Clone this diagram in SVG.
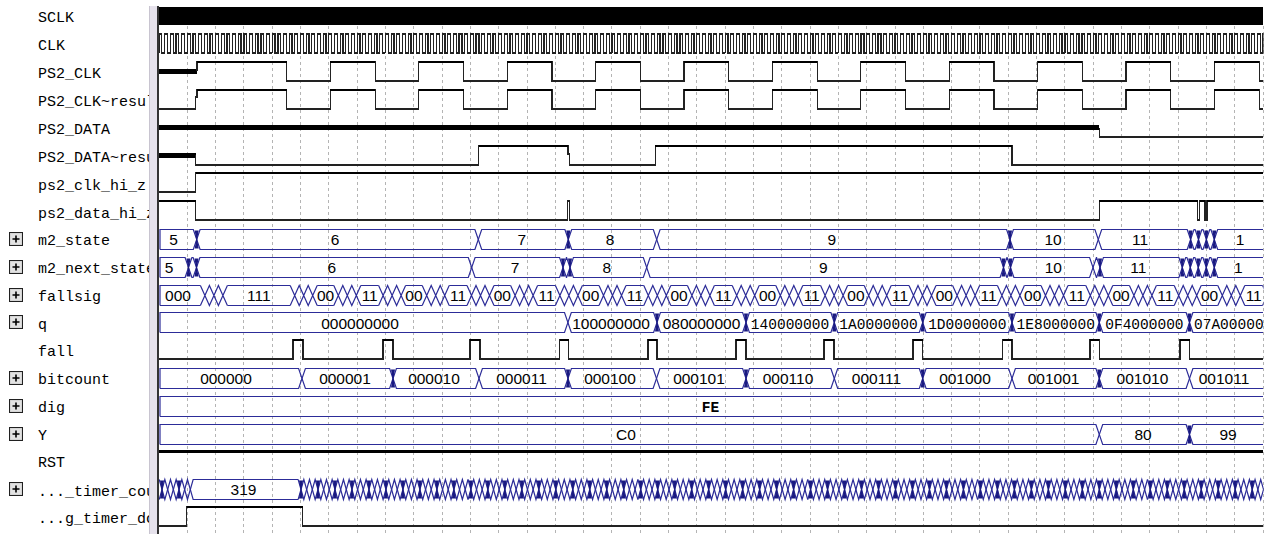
<svg xmlns="http://www.w3.org/2000/svg" width="1277" height="534" viewBox="0 0 1277 534">
<style>
.lbl{font-family:"Liberation Mono","DejaVu Sans Mono",monospace;font-size:15px;fill:#000}
.val{font-family:"Liberation Sans",Arial,sans-serif;font-size:15.5px;fill:#000;text-anchor:middle}
.valm{font-family:"Liberation Mono","DejaVu Sans Mono",monospace;font-size:14.5px;fill:#000;text-anchor:middle}
.grid{fill:none;stroke:#b4b4b4;stroke-width:1;stroke-dasharray:3 3}
.w{fill:none;stroke:#222;stroke-width:1.2}
.hi{fill:none;stroke:#000;stroke-width:2}
.z{fill:none;stroke:#000;stroke-width:5}
.bus{fill:none;stroke:#2c2c98;stroke-width:1.2}
.hg{fill:#1a1a80}
.crisp{shape-rendering:crispEdges}
</style>
<defs>
<clipPath id="lc"><rect x="0" y="0" width="149" height="534"/></clipPath>
<clipPath id="wc"><rect x="159" y="0" width="1104.5" height="534"/></clipPath>
<path id="hg" fill="#1a1a80" d="M-2,1h4l-1.5,9l1.5,9h-4l1.5,-9z"/>
<g id="pb"><rect x="0.5" y="0.5" width="13" height="13" fill="#c8c8c8" stroke="#202020"/><rect x="1.5" y="1.5" width="11" height="11" fill="#e2e2e2"/><path d="M3.5,7H10.5M7,3.5V10.5" stroke="#000" stroke-width="1.6"/></g>
<path id="ck" fill="none" stroke="#222" stroke-width="1.2" d="M0,19v-19h2.831v19h2.831v-19h2.831v19h2.831v-19h2.831v19h2.831v-19h2.831v19h2.831v-19h2.831v19h2.831v-19h2.831v19h2.831v-19h2.831v19h2.831v-19h2.831v19h2.831v-19h2.831v19h2.831v-19h2.831v19h2.831v-19h2.831v19h2.831v-19h2.831v19h2.831v-19h2.831v19h2.831v-19h2.831v19h2.831v-19h2.831v19h2.831v-19h2.831v19h2.831v-19h2.831v19h2.831v-19h2.831v19h2.831v-19h2.831v19h2.831v-19h2.831v19h2.831"/>
<path id="x3" fill="none" stroke="#2c2c98" stroke-width="1.2" d="M0,0l9,20l9,-20l9,20M0,20l9,-20l9,20l9,-20"/>
<g id="tz">
<path fill="none" stroke="#2c2c98" stroke-width="1.2" d="M0,0l5.662,20l5.662,-20l5.662,20l5.662,-20l5.662,20l5.662,-20l5.662,20l5.662,-20l5.662,20l5.662,-20l5.662,20l5.662,-20l5.662,20l5.662,-20l5.662,20l5.662,-20l5.662,20l5.662,-20l5.662,20l5.662,-20l5.662,20l5.662,-20l5.662,20l5.662,-20l5.662,20l5.662,-20l5.662,20l5.662,-20l5.662,20l5.662,-20"/>
<path fill="none" stroke="#2c2c98" stroke-width="1.2" d="M0,20l5.662,-20l5.662,20l5.662,-20l5.662,20l5.662,-20l5.662,20l5.662,-20l5.662,20l5.662,-20l5.662,20l5.662,-20l5.662,20l5.662,-20l5.662,20l5.662,-20l5.662,20l5.662,-20l5.662,20l5.662,-20l5.662,20l5.662,-20l5.662,20l5.662,-20l5.662,20l5.662,-20l5.662,20l5.662,-20l5.662,20l5.662,-20l5.662,20"/>
<path fill="#1a1a80" d="M0.831,1h4l-1.5,9l1.5,9h-4l1.5,-9zm16.986,0h4l-1.5,9l1.5,9h-4l1.5,-9zm16.986,0h4l-1.5,9l1.5,9h-4l1.5,-9zm16.986,0h4l-1.5,9l1.5,9h-4l1.5,-9zm16.986,0h4l-1.5,9l1.5,9h-4l1.5,-9zm16.986,0h4l-1.5,9l1.5,9h-4l1.5,-9zm16.986,0h4l-1.5,9l1.5,9h-4l1.5,-9zm16.986,0h4l-1.5,9l1.5,9h-4l1.5,-9zm16.986,0h4l-1.5,9l1.5,9h-4l1.5,-9zm16.986,0h4l-1.5,9l1.5,9h-4l1.5,-9z"/>
</g>
</defs>

<rect x="0" y="0" width="1277" height="534" fill="#fff"/>

<g id="labels" clip-path="url(#lc)">
<text class="lbl" x="38" y="22">SCLK</text>
<text class="lbl" x="38" y="50">CLK</text>
<text class="lbl" x="38" y="78">PS2_CLK</text>
<text class="lbl" x="38" y="106">PS2_CLK~resul</text>
<text class="lbl" x="38" y="134">PS2_DATA</text>
<text class="lbl" x="38" y="162">PS2_DATA~resu</text>
<text class="lbl" x="38" y="190">ps2_clk_hi_z</text>
<text class="lbl" x="38" y="218">ps2_data_hi_z</text>
<text class="lbl" x="38" y="245">m2_state</text>
<text class="lbl" x="38" y="273">m2_next_state</text>
<text class="lbl" x="38" y="301">fallsig</text>
<text class="lbl" x="38" y="329">q</text>
<text class="lbl" x="38" y="356">fall</text>
<text class="lbl" x="38" y="384">bitcount</text>
<text class="lbl" x="38" y="412">dig</text>
<text class="lbl" x="38" y="440">Y</text>
<text class="lbl" x="38" y="467">RST</text>
<text class="lbl" x="38" y="496">..._timer_cou</text>
<text class="lbl" x="38" y="523">...g_timer_do</text>
</g>

<g id="expanders">
<use href="#pb" x="9" y="232"/>
<use href="#pb" x="9" y="260"/>
<use href="#pb" x="9" y="288"/>
<use href="#pb" x="9" y="315"/>
<use href="#pb" x="9" y="371"/>
<use href="#pb" x="9" y="399"/>
<use href="#pb" x="9" y="427"/>
<use href="#pb" x="9" y="482"/>
</g>

<g id="divider">
<rect x="149" y="6" width="8" height="528" fill="#e6e2ec"/>
<path d="M149.5,6V534" stroke="#c8c4d0"/>
<path d="M158,6V534" stroke="#000" stroke-width="1.6"/>
</g>

<g id="grid" class="crisp">
<path class="grid" d="M187.5,26V534M215.5,26V534M243.5,26V534M272.5,26V534M300.5,26V534M328.5,26V534M357.5,26V534M385.5,26V534M413.5,26V534M442.5,26V534M470.5,26V534M498.5,26V534M527.5,26V534M555.5,26V534M583.5,26V534M611.5,26V534M640.5,26V534M668.5,26V534M696.5,26V534M725.5,26V534M753.5,26V534M781.5,26V534M810.5,26V534M838.5,26V534M866.5,26V534M895.5,26V534M923.5,26V534M951.5,26V534M979.5,26V534M1008.5,26V534M1036.5,26V534M1064.5,26V534M1093.5,26V534M1121.5,26V534M1149.5,26V534M1178.5,26V534M1206.5,26V534M1234.5,26V534M1263.5,26V534"/>
</g>

<g id="waves" clip-path="url(#wc)">
<g id="bits" class="crisp">
<g id="sig-SCLK"><rect x="159" y="7" width="1104" height="18" fill="#000"/></g>
<g id="sig-CLK">
<use href="#ck" x="159" y="34"/><use href="#ck" x="272.24" y="34"/><use href="#ck" x="385.48" y="34"/><use href="#ck" x="498.72" y="34"/><use href="#ck" x="611.96" y="34"/><use href="#ck" x="725.2" y="34"/><use href="#ck" x="838.44" y="34"/><use href="#ck" x="951.68" y="34"/><use href="#ck" x="1064.92" y="34"/><use href="#ck" x="1178.16" y="34"/>
</g>
<g id="sig-PS2_CLK">
<path class="z" d="M159,71H197"/>
<path class="w" d="M197,71V62H286.8V81H330.4V62H375.2V81H418.8V62H463.6V81H507.2V62H552V81H595.6V62H640.4V81H684V62H728.8V81H772.4V62H817.2V81H860.8V62H905.6V81H949.2V62H994V81H1037.6V62H1082.4V81H1126V62H1170.8V81H1214.4V62H1259.2V81H1263"/>
<path class="hi" d="M197,62H286.8M330.4,62H375.2M418.8,62H463.6M507.2,62H552M595.6,62H640.4M684,62H728.8M772.4,62H817.2M860.8,62H905.6M949.2,62H994M1037.6,62H1082.4M1126,62H1170.8M1214.4,62H1259.2"/>
</g>
<g id="sig-PS2_CLK_result">
<path class="w" d="M159,109H195.3V97H197V90H286.8V109H330.4V90H375.2V109H418.8V90H463.6V109H507.2V90H552V109H595.6V90H640.4V109H684V90H728.8V109H772.4V90H817.2V109H860.8V90H905.6V109H949.2V90H994V109H1037.6V90H1082.4V109H1126V90H1170.8V109H1214.4V90H1259.2V109H1263"/>
<path class="hi" d="M197,90H286.8M330.4,90H375.2M418.8,90H463.6M507.2,90H552M595.6,90H640.4M684,90H728.8M772.4,90H817.2M860.8,90H905.6M949.2,90H994M1037.6,90H1082.4M1126,90H1170.8M1214.4,90H1259.2"/>
</g>
<g id="sig-PS2_DATA">
<path class="z" d="M159,127.5H1099.3"/>
<path class="w" d="M1099.3,127.5V137H1263"/>
</g>
<g id="sig-PS2_DATA_result">
<path class="z" d="M159,155H195.7"/>
<path class="w" d="M195.7,155V165H478.6V146H567.9V154H569.5V165H655.4V146H1012V165H1263"/>
<path class="hi" d="M478.6,146H567.9M655.4,146H1012"/>
</g>
<g id="sig-ps2_clk_hi_z">
<path class="w" d="M159,192H195.7V173H1263"/>
<path class="hi" d="M195.7,173H1263"/>
</g>
<g id="sig-ps2_data_hi_z">
<path class="w" d="M159,201H195.7V220H567.5V201H569.5V220H1099.3V201H1197.5V220H1199.5V201H1205V220H1207V201H1263"/>
<path class="hi" d="M159,201H195.7M1099.3,201H1197.5M1199.5,201H1205M1207,201H1263"/>
</g>
<g id="sig-fall">
<path class="w" d="M159,359H293V340H303V359H383V340H393V359H470V340H480V359H559.6V340H568.6V359H648V340H657V359H736V340H746V359H824V340H834V359H913V340H922.7V359H1002.5V340H1012V359H1090V340H1099.3V359H1180V340H1189.5V359H1263"/>
<path class="hi" d="M293,340H303M383,340H393M470,340H480M559.6,340H568.6M648,340H657M736,340H746M824,340H834M913,340H922.7M1002.5,340H1012M1090,340H1099.3M1180,340H1189.5"/>
</g>
<g id="sig-RST"><path class="hi" style="stroke-width:3" d="M159,451.5H1263"/></g>
<g id="sig-g_timer_done">
<path class="w" d="M159,526H186.8V507H302.5V526H1263"/>
<path class="hi" d="M186.8,507H302.5"/>
</g>
</g>

<g id="buses" transform="translate(0,0.5)">
<g id="bus-m2_state">
<path class="bus" d="M160,249V229H193.3L200.1,249H474.9L481.7,229H564.9L571.7,249H653.3L660.1,229H1006.6L1013.4,249H1094.9L1101.7,229H1187.2L1194,249H1195.1L1201.9,229H1203L1209.8,249H1210.9L1217.7,229H1263"/>
<path class="bus" d="M160,249H193.3L200.1,229H474.9L481.7,249H564.9L571.7,229H653.3L660.1,249H1006.6L1013.4,229H1094.9L1101.7,249H1187.2L1194,229H1195.1L1201.9,249H1203L1209.8,229H1210.9L1217.7,249H1263"/>
<use href="#hg" x="196.7" y="229"/><use href="#hg" x="568.3" y="229"/><use href="#hg" x="1010" y="229"/><use href="#hg" x="1190.6" y="229"/><use href="#hg" x="1198.5" y="229"/><use href="#hg" x="1206.4" y="229"/><use href="#hg" x="1214.3" y="229"/>
</g>
<g id="bus-m2_next_state">
<path class="bus" d="M160,277V257H185.1L191.9,277H193.1L199.9,257H468.3L475.1,277H559.6L566.4,257H566.6L573.4,277H643.3L650.1,257H1000.1L1006.9,277H1007.1L1013.9,257H1089.6L1096.4,277H1096.6L1103.4,257H1178.9L1185.7,277H1186.9L1193.7,257H1194.9L1201.7,277H1202.9L1209.7,257H1210.9L1217.7,277H1263"/>
<path class="bus" d="M160,277H185.1L191.9,257H193.1L199.9,277H468.3L475.1,257H559.6L566.4,277H566.6L573.4,257H643.3L650.1,277H1000.1L1006.9,257H1007.1L1013.9,277H1089.6L1096.4,257H1096.6L1103.4,277H1178.9L1185.7,257H1186.9L1193.7,277H1194.9L1201.7,257H1202.9L1209.7,277H1210.9L1217.7,257H1263"/>
<use href="#hg" x="188.5" y="257"/><use href="#hg" x="196.5" y="257"/><use href="#hg" x="563" y="257"/><use href="#hg" x="570" y="257"/><use href="#hg" x="1003.5" y="257"/><use href="#hg" x="1010.5" y="257"/><use href="#hg" x="1100" y="257"/><use href="#hg" x="1182.3" y="257"/><use href="#hg" x="1190.3" y="257"/><use href="#hg" x="1198.3" y="257"/><use href="#hg" x="1206.3" y="257"/><use href="#hg" x="1214.3" y="257"/>
</g>
<g id="bus-fallsig">
<path class="bus" d="M160,305V285H200.4M227.4,285H290.2M317.2,285H333.8M360.8,285H378.6M405.6,285H422.2M449.2,285H467M494,285H510.6M537.6,285H555.4M582.4,285H599M626,285H643.8M670.8,285H687.4M714.4,285H732.2M759.2,285H775.8M802.8,285H820.6M847.6,285H864.2M891.2,285H909M936,285H952.6M979.6,285H997.4M1024.4,285H1041M1068,285H1085.8M1112.8,285H1129.4M1156.4,285H1174.2M1201.2,285H1217.8M1244.8,285H1262.6"/>
<path class="bus" d="M160,305H200.4M227.4,305H290.2M317.2,305H333.8M360.8,305H378.6M405.6,305H422.2M449.2,305H467M494,305H510.6M537.6,305H555.4M582.4,305H599M626,305H643.8M670.8,305H687.4M714.4,305H732.2M759.2,305H775.8M802.8,305H820.6M847.6,305H864.2M891.2,305H909M936,305H952.6M979.6,305H997.4M1024.4,305H1041M1068,305H1085.8M1112.8,305H1129.4M1156.4,305H1174.2M1201.2,305H1217.8M1244.8,305H1262.6"/>
<use href="#x3" x="200.4" y="285"/><use href="#x3" x="290.2" y="285"/><use href="#x3" x="333.8" y="285"/><use href="#x3" x="378.6" y="285"/><use href="#x3" x="422.2" y="285"/><use href="#x3" x="467" y="285"/><use href="#x3" x="510.6" y="285"/><use href="#x3" x="555.4" y="285"/><use href="#x3" x="599" y="285"/><use href="#x3" x="643.8" y="285"/><use href="#x3" x="687.4" y="285"/><use href="#x3" x="732.2" y="285"/><use href="#x3" x="775.8" y="285"/><use href="#x3" x="820.6" y="285"/><use href="#x3" x="864.2" y="285"/><use href="#x3" x="909" y="285"/><use href="#x3" x="952.6" y="285"/><use href="#x3" x="997.4" y="285"/><use href="#x3" x="1041" y="285"/><use href="#x3" x="1085.8" y="285"/><use href="#x3" x="1129.4" y="285"/><use href="#x3" x="1174.2" y="285"/><use href="#x3" x="1217.8" y="285"/><use href="#x3" x="1262.6" y="285"/>
</g>
<g id="bus-q">
<path class="bus" d="M160,332V312H564.5L571.3,332H653.6L660.4,312H742.6L749.4,332H830.9L837.7,312H919.3L926.1,332H1008.6L1015.4,312H1095.9L1102.7,332H1186.1L1192.9,312H1263"/>
<path class="bus" d="M160,332H564.5L571.3,312H653.6L660.4,332H742.6L749.4,312H830.9L837.7,332H919.3L926.1,312H1008.6L1015.4,332H1095.9L1102.7,312H1186.1L1192.9,332H1263"/>
<use href="#hg" x="657" y="312"/><use href="#hg" x="746" y="312"/><use href="#hg" x="834.3" y="312"/><use href="#hg" x="922.7" y="312"/><use href="#hg" x="1012" y="312"/><use href="#hg" x="1099.3" y="312"/><use href="#hg" x="1189.5" y="312"/>
</g>
<g id="bus-bitcount">
<path class="bus" d="M160,388V368H298.6L305.4,388H389.6L396.4,368H475.6L482.4,388H564.6L571.4,368H653.1L659.9,388H742.6L749.4,368H830.9L837.7,388H919.3L926.1,368H1008.6L1015.4,388H1095.9L1102.7,368H1186.1L1192.9,388H1263"/>
<path class="bus" d="M160,388H298.6L305.4,368H389.6L396.4,388H475.6L482.4,368H564.6L571.4,388H653.1L659.9,368H742.6L749.4,388H830.9L837.7,368H919.3L926.1,388H1008.6L1015.4,368H1095.9L1102.7,388H1186.1L1192.9,368H1263"/>
<use href="#hg" x="393" y="368"/><use href="#hg" x="568" y="368"/><use href="#hg" x="746" y="368"/><use href="#hg" x="922.7" y="368"/><use href="#hg" x="1099.3" y="368"/>
</g>
<g id="bus-dig">
<path class="bus" d="M160,416V396H1263M160,416H1263"/>
</g>
<g id="bus-Y">
<path class="bus" d="M160,444V424H1095.9L1102.7,444H1186.1L1192.9,424H1263"/>
<path class="bus" d="M160,444H1095.9L1102.7,424H1186.1L1192.9,444H1263"/>
<use href="#hg" x="1189.5" y="424"/>
</g>
<g id="bus-timer_count">
<path class="bus" d="M159.17,479l5.662,20l5.662,-20l5.662,20l5.662,-20l5.662,20l5.662,-20H298.17"/>
<path class="bus" d="M159.17,499l5.662,-20l5.662,20l5.662,-20l5.662,20l5.662,-20l5.662,20H298.17"/>
<use href="#hg" x="162" y="479"/><use href="#hg" x="179" y="479"/>
<use href="#tz" x="298.17" y="479"/><use href="#tz" x="468.03" y="479"/><use href="#tz" x="637.89" y="479"/><use href="#tz" x="807.75" y="479"/><use href="#tz" x="977.61" y="479"/><use href="#tz" x="1147.47" y="479"/>
</g>
</g>

<g id="values">
<text class="val" x="173.5" y="245">5</text><text class="val" x="335" y="245">6</text><text class="val" x="521.7" y="245">7</text><text class="val" x="610" y="245">8</text><text class="val" x="831.7" y="245">9</text><text class="val" x="1053" y="245">10</text><text class="val" x="1140" y="245">11</text><text class="val" x="1240" y="245">1</text>
<text class="val" x="169" y="273">5</text><text class="val" x="331.7" y="273">6</text><text class="val" x="515" y="273">7</text><text class="val" x="606.7" y="273">8</text><text class="val" x="823.3" y="273">9</text><text class="val" x="1053.3" y="273">10</text><text class="val" x="1138.3" y="273">11</text><text class="val" x="1238.3" y="273">1</text>
<text class="val" x="178" y="301">000</text><text class="val" x="258.8" y="301">111</text>
<text class="val" x="325.5" y="301">00</text><text class="val" x="369.7" y="301">11</text><text class="val" x="413.9" y="301">00</text><text class="val" x="458.1" y="301">11</text><text class="val" x="502.3" y="301">00</text><text class="val" x="546.5" y="301">11</text><text class="val" x="590.7" y="301">00</text><text class="val" x="634.9" y="301">11</text><text class="val" x="679.1" y="301">00</text><text class="val" x="723.3" y="301">11</text><text class="val" x="767.5" y="301">00</text><text class="val" x="811.7" y="301">11</text><text class="val" x="855.9" y="301">00</text><text class="val" x="900.1" y="301">11</text><text class="val" x="944.3" y="301">00</text><text class="val" x="988.5" y="301">11</text><text class="val" x="1032.7" y="301">00</text><text class="val" x="1076.9" y="301">11</text><text class="val" x="1121.1" y="301">00</text><text class="val" x="1165.3" y="301">11</text><text class="val" x="1209.5" y="301">00</text><text class="val" x="1253.7" y="301">11</text>
<text class="val" x="360" y="329">000000000</text><text class="val" x="611" y="329">100000000</text><text class="val" x="701.5" y="329">080000000</text>
<text class="valm" x="790" y="329">140000000</text><text class="valm" x="878.5" y="329">1A0000000</text><text class="valm" x="967.3" y="329">1D0000000</text><text class="valm" x="1055.7" y="329">1E8000000</text><text class="valm" x="1144.4" y="329">0F4000000</text><text class="valm" x="1194" y="329" style="text-anchor:start">07A000000</text>
<text class="val" x="226" y="384">000000</text><text class="val" x="345" y="384">000001</text><text class="val" x="434" y="384">000010</text><text class="val" x="521.5" y="384">000011</text><text class="val" x="610" y="384">000100</text><text class="val" x="699" y="384">000101</text><text class="val" x="788" y="384">000110</text><text class="val" x="876.5" y="384">000111</text><text class="val" x="965" y="384">001000</text><text class="val" x="1053.6" y="384">001001</text><text class="val" x="1142.4" y="384">001010</text><text class="val" x="1224" y="384">001011</text>
<text class="valm" x="710.5" y="412" style="font-weight:bold">FE</text>
<text class="val" x="626" y="440">C0</text><text class="val" x="1143" y="440">80</text><text class="val" x="1228" y="440">99</text>
<text class="val" x="243.5" y="495">319</text>
</g>
</g>
</svg>
